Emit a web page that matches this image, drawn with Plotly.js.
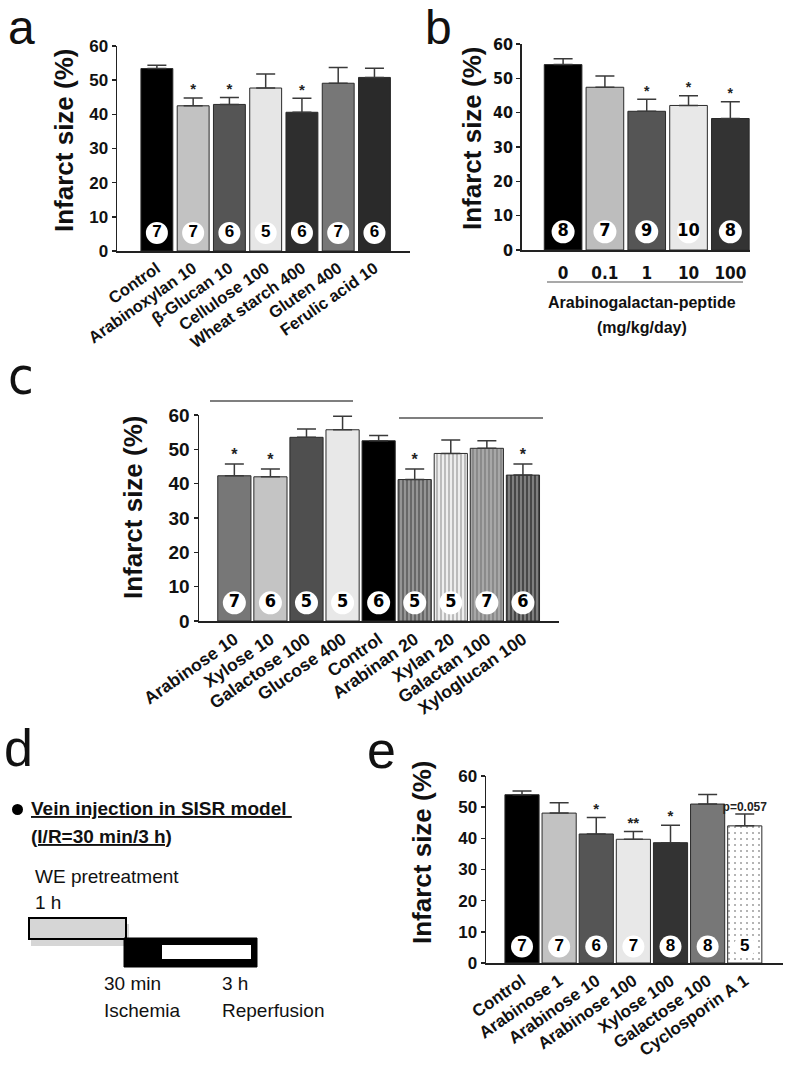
<!DOCTYPE html>
<html>
<head>
<meta charset="utf-8">
<script src="https://cdn.plot.ly/plotly-3.0.1.min.js"></script>
<style>
  html, body { margin: 0; padding: 0; background: #fff; }
  #fig { width: 787px; height: 1066px; }
</style>
</head>
<body>
<div id="fig"></div>
<script>
// panel a: dietary fibres
const aCats = ['Control', 'Arabinoxylan 10', 'β-Glucan 10', 'Cellulose 100', 'Wheat starch 400', 'Gluten 400', 'Ferulic acid 10'];
const aMean = [53.4, 42.5, 42.9, 47.7, 40.6, 49.1, 50.8];
const aSem = [1.0, 2.3, 2.0, 4.1, 4.1, 4.6, 2.7];
const aN = [7, 7, 6, 5, 6, 7, 6];
const aSig = ['', '*', '*', '', '*', '', ''];

// panel b: arabinogalactan-peptide dose
const bCats = ['0', '0.1', '1', '10', '100'];
const bMean = [54.0, 47.4, 40.4, 42.1, 38.3];
const bSem = [1.7, 3.3, 3.5, 2.8, 4.9];
const bN = [8, 7, 9, 10, 8];
const bSig = ['', '', '*', '*', '*'];

// panel c: monosaccharides / polysaccharides
const cCats = ['Arabinose 10', 'Xylose 10', 'Galactose 100', 'Glucose 400', 'Control', 'Arabinan 20', 'Xylan 20', 'Galactan 100', 'Xyloglucan 100'];
const cMean = [42.3, 42.0, 53.5, 55.7, 52.5, 41.2, 48.8, 50.3, 42.5];
const cSem = [3.4, 2.3, 2.4, 3.9, 1.5, 3.1, 3.9, 2.2, 3.2];
const cN = [7, 6, 5, 5, 6, 5, 5, 7, 6];
const cSig = ['*', '*', '', '', '', '*', '', '', '*'];

// panel e: vein injection
const eCats = ['Control', 'Arabinose 1', 'Arabinose 10', 'Arabinose 100', 'Xylose 100', 'Galactose 100', 'Cyclosporin A 1'];
const eMean = [54.0, 48.1, 41.4, 39.7, 38.6, 51.0, 44.0];
const eSem = [1.2, 3.3, 5.3, 2.5, 5.6, 3.1, 3.8];
const eN = [7, 7, 6, 7, 8, 8, 5];
const eSig = ['', '', '*', '**', '*', '', 'p=0.057'];

// bar fills
const aColors = ['#000000', '#c2c2c2', '#555555', '#e6e6e6', '#2e2e2e', '#777777', '#2a2a2a'];
const bColors = ['#000000', '#bdbdbd', '#555555', '#e8e8e8', '#333333'];
const cColors = ['#777777', '#c4c4c4', '#4f4f4f', '#e8e8e8', '#000000', '#686868', '#eeeeee', '#a8a8a8', '#474747'];
const cShapes = ['', '', '', '', '', '|', '|', '|', '|'];
const cStripe = ['#000', '#000', '#000', '#000', '#000', '#5a5a5a', '#d6d6d6', '#949494', '#3a3a3a'];
const eColors = ['#000000', '#c2c2c2', '#555555', '#e8e8e8', '#333333', '#777777', '#ffffff'];
const eShapes = ['', '', '', '', '', '', '.'];

const W = 787, H = 1066;
const px = x => x / W;
const py = y => 1 - y / H;
const LABEL_Y = 5.3;

const SANS = 'Liberation Sans, Arial, sans-serif';
const NARROW = 'Liberation Sans Narrow, Arial Narrow, DejaVu Sans Condensed, sans-serif';

function panelTraces(cats, mean, sem, n, sig, colors, ax, opts) {
    const xa = 'x' + ax, ya = 'y' + ax;
    const bar = {
        type: 'bar', x: cats, y: mean, xaxis: xa, yaxis: ya,
        width: opts.width,
        marker: { color: colors, line: { color: '#2a2a2a', width: 1 } },
        error_y: {
            type: 'data', symmetric: false, array: sem, arrayminus: sem.map(() => 0),
            color: '#3a3a3a', thickness: 1.5, width: opts.cap
        },
        hoverinfo: 'skip', showlegend: false
    };
    if (opts.pattern) bar.marker.pattern = opts.pattern;
    const circles = {
        type: 'scatter', mode: 'markers+text', x: cats, y: cats.map(() => LABEL_Y),
        xaxis: xa, yaxis: ya,
        marker: { symbol: 'circle', size: opts.circle, color: '#ffffff', line: { width: 0 } },
        text: n.map(String), textposition: 'middle center',
        textfont: { family: opts.numFont || SANS, size: opts.numSize, color: '#000', weight: 'bold' },
        hoverinfo: 'skip', showlegend: false, cliponaxis: false
    };
    const tops = mean.map((m, i) => m + sem[i]);
    // asterisks and longer notes (p values) are drawn as separate text layers
    const stars = {
        type: 'scatter', mode: 'text', x: cats, y: tops, xaxis: xa, yaxis: ya,
        text: sig.map(s => s.length <= 2 ? s : ''), textposition: 'top center',
        textfont: { family: SANS, size: opts.starSize, color: '#222', weight: 'bold' },
        hoverinfo: 'skip', showlegend: false, cliponaxis: false
    };
    const notes = {
        type: 'scatter', mode: 'text', x: cats, y: tops, xaxis: xa, yaxis: ya,
        text: sig.map(s => s.length > 2 ? s : ''), textposition: 'top center',
        textfont: { family: SANS, size: 12, color: '#222', weight: 'bold' },
        hoverinfo: 'skip', showlegend: false, cliponaxis: false
    };
    return [bar, circles, stars, notes];
}

const traces = [].concat(
    panelTraces(aCats, aMean, aSem, aN, aSig, aColors, '', { width: 0.88, cap: 9.5, circle: 22, numSize: 17, starSize: 15 }),
    panelTraces(bCats, bMean, bSem, bN, bSig, bColors, '2', { width: 0.9, cap: 9.5, circle: 23, numSize: 18, starSize: 14, numFont: NARROW }),
    panelTraces(cCats, cMean, cSem, cN, cSig, cColors, '3', {
        width: 0.92, cap: 9.5, circle: 23, numSize: 18, starSize: 16, numFont: NARROW,
        pattern: { shape: cShapes, fgcolor: cStripe, fillmode: 'overlay', size: 4, solidity: 0.3 }
    }),
    panelTraces(eCats, eMean, eSem, eN, eSig, eColors, '4', {
        width: 0.92, cap: 9.5, circle: 22, numSize: 17, starSize: 15,
        pattern: { shape: eShapes, fgcolor: '#cfcfcf', fillmode: 'overlay', size: 6, solidity: 0.1 }
    })
);

function yAxis(x, top, bottom, size, family) {
    return {
        domain: [py(bottom), py(top)], anchor: x, range: [0, 60], dtick: 10,
        showgrid: false, zeroline: false, showline: true, linecolor: '#222', linewidth: 1.5,
        ticks: 'outside', ticklen: 4, tickwidth: 1.5, tickcolor: '#222',
        tickfont: { family: family, size: size, color: '#111', weight: 'bold' }
    };
}
function xAxis(y, left, right, range, angle, size, family) {
    return {
        domain: [px(left), px(right)], anchor: y, type: 'category', range: range,
        showgrid: false, zeroline: false, showline: true, linecolor: '#222', linewidth: 1.5,
        ticks: '', tickangle: angle,
        tickfont: { family: family, size: size, color: '#111', weight: 'bold' }
    };
}

const ytitle = (x, y, size) => ({
    text: '<b>Infarct size (%)</b>', x: px(x), y: py(y), xref: 'paper', yref: 'paper',
    textangle: -90, showarrow: false, xanchor: 'center', yanchor: 'middle',
    font: { family: SANS, size: size, color: '#111' }
});
const plabel = (t, x, y, size, fam) => ({
    text: t, x: px(x), y: py(y), xref: 'paper', yref: 'paper', showarrow: false,
    xanchor: 'center', yanchor: 'middle',
    font: { family: fam || SANS, size: size, color: '#111' }
});
const dtext = (t, x, y, size) => ({
    text: t, x: px(x), y: py(y), xref: 'paper', yref: 'paper', showarrow: false,
    xanchor: 'left', yanchor: 'middle', font: { family: SANS, size: size, color: '#111' }
});
const rect = (x0, y0, x1, y1, fill, lw) => ({
    type: 'rect', xref: 'paper', yref: 'paper', x0: px(x0), x1: px(x1), y0: py(y1), y1: py(y0),
    fillcolor: fill, line: { color: '#000', width: lw }
});
const hline = (x0, x1, y, w, c) => ({
    type: 'line', xref: 'paper', yref: 'paper', x0: px(x0), x1: px(x1), y0: py(y), y1: py(y),
    line: { color: c || '#444', width: w }
});

const layout = {
    width: W, height: H, margin: { l: 0, r: 0, t: 0, b: 0 },
    paper_bgcolor: '#fff', plot_bgcolor: 'rgba(0,0,0,0)',
    font: { family: SANS, color: '#111' },
    showlegend: false,
    xaxis: xAxis('y', 117, 410, [-1.1, 6.98], -35, 16.5, SANS),
    yaxis: yAxis('x', 46, 251, 17, SANS),
    xaxis2: Object.assign(xAxis('y2', 521.7, 750, [-0.99, 4.47], 0, 17, NARROW), { ticklabelstandoff: 7 }),
    yaxis2: yAxis('x2', 44, 250, 16, NARROW),
    xaxis3: xAxis('y3', 199, 559, [-0.98, 9.0], -35, 17.5, SANS),
    yaxis3: yAxis('x3', 415, 621, 19, SANS),
    xaxis4: xAxis('y4', 486, 783, [-0.97, 7.03], -35, 17, SANS),
    yaxis4: yAxis('x4', 776, 963, 17, SANS),
    annotations: [
        plabel('a', 21, 27, 48), plabel('b', 438, 27, 48), plabel('c', 21, 376, 52, NARROW),
        plabel('d', 18, 748, 52), plabel('e', 381, 750, 52),
        ytitle(64, 140, 26), ytitle(472, 138, 26), ytitle(133, 507, 26), ytitle(422, 852, 26),
        {
            text: '<b>Arabinogalactan-peptide</b>', x: px(642), y: py(302), xref: 'paper', yref: 'paper',
            showarrow: false, xanchor: 'center', yanchor: 'middle', font: { family: SANS, size: 16, color: '#111' }
        },
        {
            text: '<b>(mg/kg/day)</b>', x: px(642), y: py(327), xref: 'paper', yref: 'paper',
            showarrow: false, xanchor: 'center', yanchor: 'middle', font: { family: SANS, size: 16, color: '#111' }
        },
        dtext('<b><u>Vein injection in SISR model </u></b>', 29, 808, 19),
        dtext('<b><u>(I/R=30 min/3 h)</u></b>', 29, 836, 19),
        dtext('WE pretreatment', 33, 876, 19),
        dtext('1 h', 33, 902, 19),
        dtext('30 min', 102, 983, 19),
        dtext('3 h', 220, 983, 19),
        dtext('Ischemia', 102, 1010, 19),
        dtext('Reperfusion', 220, 1010, 19)
    ],
    shapes: [
        hline(547, 743, 282, 1.2, '#555'),
        hline(210, 353, 401, 1.5, '#555'),
        hline(399, 543, 418, 1.5, '#555'),
        { type: 'circle', xref: 'paper', yref: 'paper', x0: px(12), x1: px(23), y0: py(815), y1: py(804), fillcolor: '#000', line: { width: 0 } },
        { type: 'rect', xref: 'paper', yref: 'paper', x0: px(31), x1: px(129), y0: py(946), y1: py(924), fillcolor: 'rgba(0,0,0,0.16)', line: { width: 0 } },
        rect(29, 918, 126, 939, '#d6d6d6', 2),
        rect(124, 938, 257, 967, '#000', 1),
        rect(162, 945, 251, 959, '#fff', 0)
    ]
};

Plotly.newPlot('fig', traces, layout, { staticPlot: true });
</script>
</body>
</html>
